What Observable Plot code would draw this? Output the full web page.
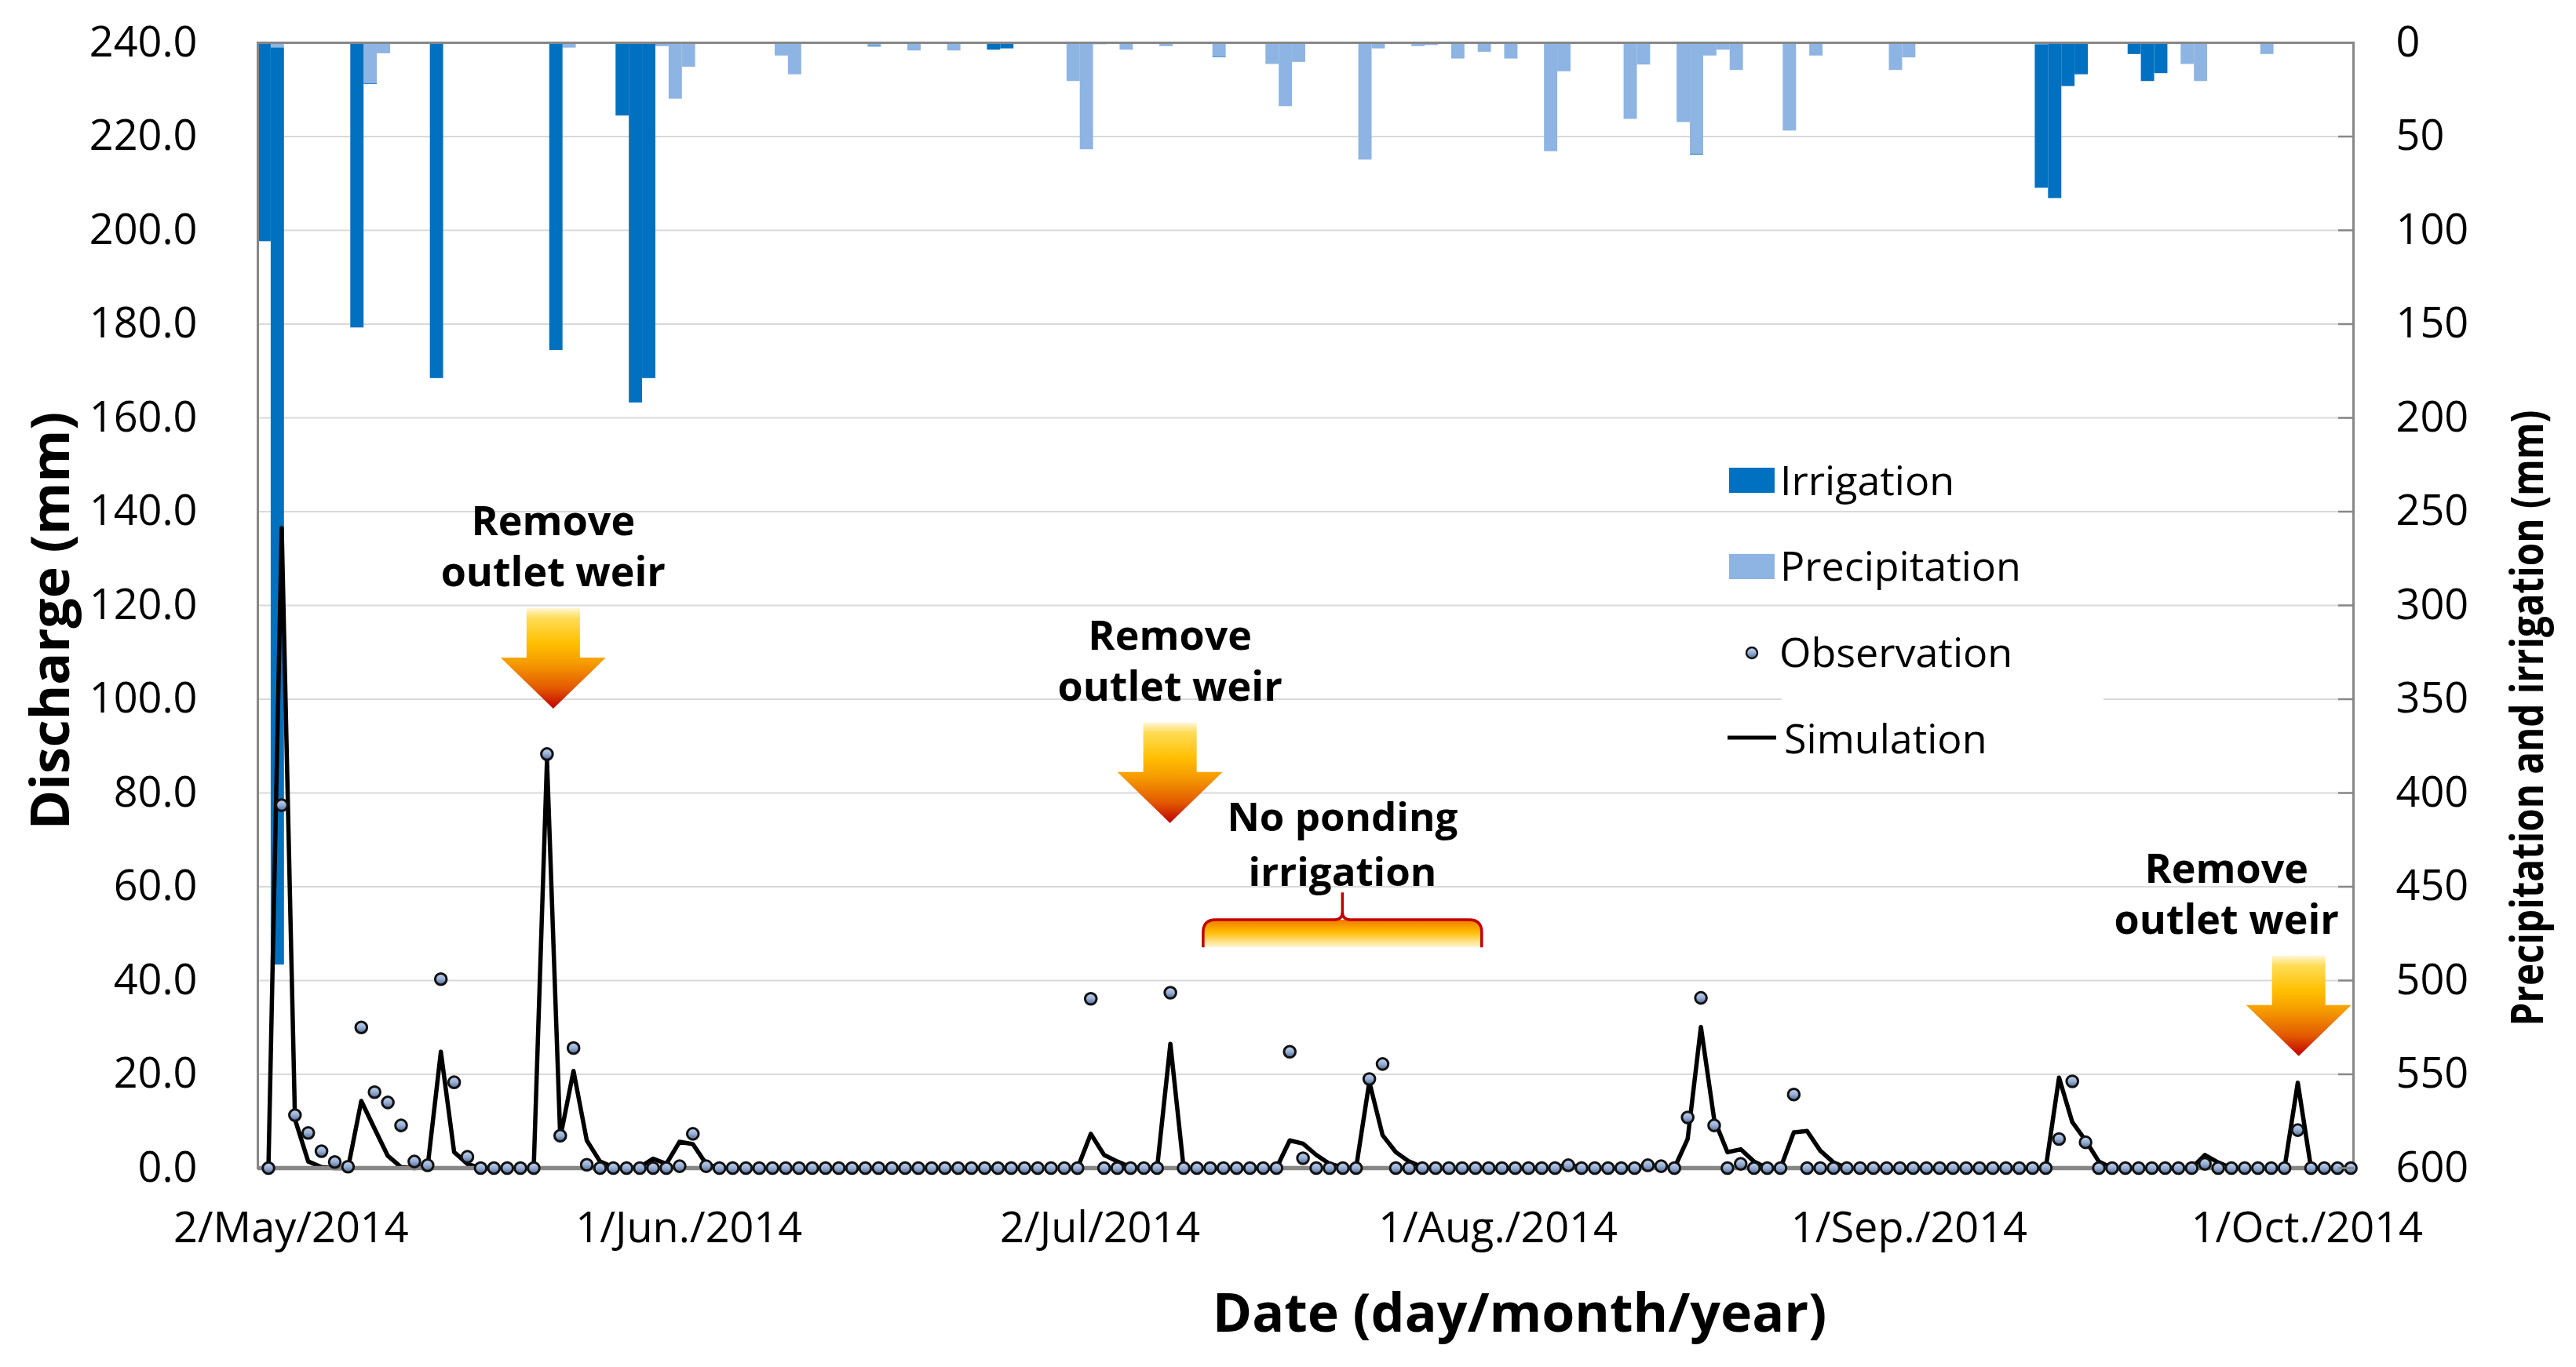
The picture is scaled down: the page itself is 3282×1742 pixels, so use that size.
<!DOCTYPE html>
<html>
<head>
<meta charset="utf-8">
<script src="https://cdn.jsdelivr.net/npm/d3@7"></script>
<script src="https://cdn.jsdelivr.net/npm/@observablehq/plot@0.6"></script>
<style>
html,body{margin:0;padding:0;background:#fff;}
#chart svg{display:block;}
</style>
</head>
<body>
<div id="chart"></div>
<script>
// ---------------- data (daily, first day = startDate) ----------------
const startDate = "2014-04-30";

// Observed discharge (mm)
const observation = [
  0, 77.4, 11.3, 7.5, 3.6, 1.3, 0.3, 30.0, 16.2, 14.0,
  9.1, 1.4, 0.6, 40.3, 18.3, 2.4, 0, 0, 0, 0,
  0, 88.3, 6.9, 25.6, 0.7, 0, 0, 0, 0, 0,
  0, 0.4, 7.3, 0.4, 0, 0, 0, 0, 0, 0,
  0, 0, 0, 0, 0, 0, 0, 0, 0, 0,
  0, 0, 0, 0, 0, 0, 0, 0, 0, 0,
  0, 0, 36.1, 0, 0, 0, 0, 0, 37.4, 0,
  0, 0, 0, 0, 0, 0, 0, 24.8, 2.1, 0,
  0, 0, 0, 19.0, 22.2, 0, 0, 0, 0, 0,
  0, 0, 0, 0, 0, 0, 0, 0, 0.6, 0,
  0, 0, 0, 0, 0.6, 0.4, 0, 10.8, 36.3, 9.1,
  0, 0.9, 0, 0, 0, 15.7, 0, 0, 0, 0,
  0, 0, 0, 0, 0, 0, 0, 0, 0, 0,
  0, 0, 0, 0, 0, 6.2, 18.5, 5.5, 0, 0,
  0, 0, 0, 0, 0, 0, 0.9, 0, 0, 0,
  0, 0, 0, 8.1, 0, 0, 0, 0
];

// Simulated discharge (mm)
const simulation = [
  0, 136.5, 10.4, 1.4, 0.2, 0, 0, 14.3, 8.4, 2.6,
  0.2, 0, 0.3, 24.8, 3.4, 0.9, 0, 0, 0, 0,
  0, 87.0, 6.5, 20.7, 5.9, 1.4, 0.2, 0, 0.2, 2.0,
  0.9, 5.6, 5.1, 0.9, 0, 0, 0, 0, 0, 0,
  0, 0, 0, 0, 0, 0, 0, 0, 0, 0,
  0, 0, 0, 0, 0, 0, 0, 0, 0, 0,
  0, 0, 7.3, 2.8, 1.4, 0.2, 0, 0, 26.5, 0,
  0, 0, 0, 0, 0, 0, 0, 5.9, 5.2, 2.8,
  0.9, 0.2, 0, 18.4, 7.0, 3.4, 1.4, 0.2, 0, 0,
  0, 0, 0, 0, 0, 0, 0, 0, 0.9, 0,
  0, 0, 0, 0.3, 0.4, 0.3, 0, 6.2, 30.1, 10.4,
  3.4, 4.0, 1.4, 0, 0, 7.6, 7.9, 3.7, 1.2, 0,
  0, 0, 0, 0, 0, 0, 0, 0, 0, 0,
  0, 0, 0, 0, 0, 19.3, 9.8, 5.9, 1.4, 0,
  0, 0, 0, 0, 0, 0, 2.8, 1.2, 0, 0,
  0, 0, 0, 18.2, 0, 0, 0, 0
];

// Precipitation (mm, right axis)
const precipitation = [
  0, 2.7, 0, 0, 0, 0, 0, 0, 21.7, 5.8,
  0, 0, 0, 0, 0, 0, 0, 0, 0, 0,
  0, 0, 0, 2.8, 0, 0, 0, 0, 0, 0,
  2, 30, 13, 0, 0, 0, 0, 0, 0, 7,
  17, 0, 0, 0, 0, 0, 1.8, 0, 0, 4.3,
  0, 0, 4.3, 0, 0, 0, 0, 0, 0, 0,
  0, 20.6, 57, 1, 0, 3.9, 0, 0, 2, 0,
  0, 0, 7.4, 0, 0, 0, 11.5, 34, 10.4, 0,
  0, 0, 0, 62.5, 3.2, 0, 0, 2, 1.4, 0,
  8.6, 0, 5, 0, 8.6, 0, 0, 58, 15.4, 0,
  0, 0, 0, 40.8, 11.8, 0, 0, 42.5, 59.4, 7,
  3.9, 14.7, 0, 0, 0, 47, 0, 7, 0, 0,
  0, 0, 0, 14.7, 8, 0, 0, 0, 0, 0,
  0, 0, 0, 0, 1, 0, 0, 0, 0, 0,
  0, 0, 0, 0, 0, 11.5, 20.6, 0, 0, 0,
  0, 6.2, 0, 0, 0, 0, 0, 0
];

// Irrigation (mm, right axis)
const irrigation = [
  106, 489, 0, 0, 0, 0, 0, 152, 0.4, 0,
  0, 0, 0, 179, 0, 0, 0, 0, 0, 0,
  0, 0, 164, 0, 0, 0, 0, 39, 192, 179,
  0, 0, 0, 0, 0, 0, 0, 0.4, 0.4, 0,
  0, 0, 0, 0, 0.4, 0.4, 0.4, 0.4, 0, 0,
  0, 0.5, 0, 0, 0, 3.9, 3.2, 0, 0, 0,
  0, 0, 0, 0, 0, 0, 0, 0, 0, 0,
  0, 0, 0.4, 0, 0, 0, 0, 0, 0, 0,
  0, 0, 0, 0, 0, 0, 0, 0, 0, 0,
  0, 0, 0, 0, 0, 0, 0, 0, 0, 0,
  0, 0, 0, 0, 0, 0, 0, 0, 0.4, 0,
  0, 0, 0, 0, 0, 0, 0, 0, 0, 0,
  0, 0, 0, 0, 0, 0, 0, 0, 0, 0,
  0, 0, 0, 0, 76.5, 83, 23.3, 17, 0, 0,
  0, 6.2, 20.6, 16.4, 0, 0, 0, 0, 0, 0,
  0, 0, 0, 0, 0, 0, 0, 0
];

const xTickDates  = ["2014-05-02", "2014-06-01", "2014-07-02", "2014-08-01", "2014-09-01", "2014-10-01"];
const xTickLabels = ["2/May/2014", "1/Jun./2014", "2/Jul/2014", "1/Aug./2014", "1/Sep./2014", "1/Oct./2014"];
const dischargeTicks = [0, 20, 40, 60, 80, 100, 120, 140, 160, 180, 200, 220, 240];
const rainTicks = [0, 50, 100, 150, 200, 250, 300, 350, 400, 450, 500, 550, 600];
const legendLabels = ["Irrigation", "Precipitation", "Observation", "Simulation"];
const noteWeir = ["Remove", "outlet weir"];
const notePonding = ["No ponding", "irrigation"];
const titleX = "Date (day/month/year)";
const titleY = "Discharge (mm)";
const titleY2 = "Precipitation and irrigation (mm)";

// ---------------- chart ----------------
const DAY = 864e5;
const t0 = Date.parse(startDate + "T00:00:00Z");
const nDays = observation.length;
const Q_MAX = 240, RAIN_MAX = 600;
const K = Q_MAX / RAIN_MAX;               // right (reversed) axis mapped onto discharge scale
const rainY = v => Q_MAX - v * K;
const SERIES_SHIFT = 0.8;                  // discharge series sit slightly right of the bar centres

const rows = d3.range(nDays).map(i => ({
  start: new Date(t0 + i * DAY),
  end: new Date(t0 + (i + 1) * DAY),
  mid: new Date(t0 + (i + SERIES_SHIFT) * DAY),
  obs: observation[i], sim: simulation[i], pr: precipitation[i], ir: irrigation[i]
}));
const tickMid = xTickDates.map(s => new Date(Date.parse(s + "T12:00:00Z")));
const labelOf = new Map(tickMid.map((d, i) => [+d, xTickLabels[i]]));

const FONT = "'Open Sans', 'Noto Sans', sans-serif";
const GRAY = "#878787";

const plot = Plot.plot({
  width: 3282, height: 1742,
  marginLeft: 328, marginRight: 284, marginTop: 54, marginBottom: 254,
  style: {fontFamily: FONT, background: "#fff", color: "#000", overflow: "visible"},
  x: {type: "utc", domain: [new Date(t0), new Date(t0 + nDays * DAY)]},
  y: {domain: [0, Q_MAX]},
  marks: [
    Plot.ruleY(dischargeTicks.filter(v => v > 0 && v < Q_MAX), {stroke: "#d9d9d9", strokeWidth: 2}),
    Plot.rect(rows.filter(r => r.pr > 0), {x1: "start", x2: "end", y1: () => Q_MAX, y2: r => rainY(r.pr), fill: "#8db4e2"}),
    Plot.rect(rows.filter(r => r.ir > 0), {x1: "start", x2: "end", y1: r => rainY(r.pr), y2: r => rainY(r.pr + r.ir), fill: "#0070c0"}),
    Plot.frame({stroke: GRAY, strokeWidth: 3}),
    Plot.line(rows, {x: "mid", y: "sim", stroke: "#000", strokeWidth: 5.5, strokeLinejoin: "round"}),
    Plot.ruleY([0], {stroke: GRAY, strokeWidth: 5.5}),
    Plot.dot(rows, {x: "mid", y: "obs", r: 7.3, fill: "url(#dotFill)", stroke: "#111", strokeWidth: 3}),
    Plot.axisY(dischargeTicks, {anchor: "left", tickSize: 0, tickPadding: 77, tickFormat: d => d.toFixed(1), fontSize: 54, label: null}),
    Plot.axisY(rainTicks.map(rainY), {anchor: "right", tickSize: 20, dx: -20, tickPadding: 54,
      tickFormat: d => String(Math.round((Q_MAX - d) / K)), fontSize: 54, stroke: GRAY, strokeWidth: 2.5, label: null}),
    Plot.axisX(tickMid, {anchor: "bottom", tickSize: 0, tickPadding: 56, tickFormat: d => labelOf.get(+d), fontSize: 54, label: null})
  ]
});
document.getElementById("chart").appendChild(plot);

// ---------------- annotations, titles, legend ----------------
const svg = d3.select(plot);
const sx = plot.scale("x"), sy = plot.scale("y");
const X = dd => sx.apply(new Date(t0 + dd * DAY));   // dd = days from start
const Y = v => sy.apply(v);

const defs = svg.insert("defs", ":first-child");
function grad(id, stops) {
  const g = defs.append("linearGradient").attr("id", id).attr("x1", 0).attr("y1", 0).attr("x2", 0).attr("y2", 1);
  stops.forEach(([o, c]) => g.append("stop").attr("offset", o).attr("stop-color", c));
}
grad("dotFill", [[0, "#c6d5ec"], [0.5, "#98afd5"], [1, "#4f6a95"]]);
grad("arrowFill", [[0, "#fff7d6"], [0.1, "#ffdc55"], [0.35, "#ffbf00"], [0.55, "#f59a00"], [0.8, "#e25800"], [1, "#c00000"]]);
grad("braceFill", [[0, "#f07800"], [0.45, "#ffbd00"], [1, "#fff6d8"]]);

const g = svg.append("g").attr("text-anchor", "start");

// gridline hidden behind the legend box in the original
g.append("rect").attr("x", 2270).attr("y", Y(100) - 4).attr("width", 410).attr("height", 8).attr("fill", "#fff");

// weir removal arrows + notes
const weirSpots = [{at: 22.3, tip: 97.9, shift: 0}, {at: 68.8, tip: 73.5, shift: 0}, {at: 153.9, tip: 23.8, shift: -92}];
weirSpots.forEach(s => {
  const tx = X(s.at), ty = Y(s.tip);
  const sw = 34, hw = 67, hh = 65, H = 128;
  g.append("path")
    .attr("d", `M${tx - sw},${ty - H}L${tx + sw},${ty - H}L${tx + sw},${ty - hh}L${tx + hw},${ty - hh}L${tx},${ty}L${tx - hw},${ty - hh}L${tx - sw},${ty - hh}Z`)
    .attr("fill", "url(#arrowFill)");
  const t = g.append("text").attr("text-anchor", "middle").attr("font-family", FONT)
    .attr("font-weight", 700).attr("font-size", 52).attr("fill", "#000");
  t.append("tspan").attr("x", tx + s.shift).attr("y", ty - 221).text(noteWeir[0]);
  t.append("tspan").attr("x", tx + s.shift).attr("y", ty - 156).text(noteWeir[1]);
});

// no-ponding bracket
{
  const L = X(71.3), R = X(92.3), M = X(81.8);
  const T = Y(52.9), B = Y(47.0), N = Y(58.7), r = 16;
  g.append("path")
    .attr("d", `M${L},${B}L${L},${T + r}Q${L},${T} ${L + r},${T}L${R - r},${T}Q${R},${T} ${R},${T + r}L${R},${B}Z`)
    .attr("fill", "url(#braceFill)");
  g.append("path")
    .attr("d", `M${L},${B}L${L},${T + r}Q${L},${T} ${L + r},${T}L${M - 10},${T}Q${M},${T} ${M},${T - 10}L${M},${N}M${M},${T - 10}Q${M},${T} ${M + 10},${T}L${R - r},${T}Q${R},${T} ${R},${T + r}L${R},${B}`)
    .attr("fill", "none").attr("stroke", "#c00000").attr("stroke-width", 3.5);
  const t = g.append("text").attr("text-anchor", "middle").attr("font-family", FONT)
    .attr("font-weight", 700).attr("font-size", 51).attr("fill", "#000");
  t.append("tspan").attr("x", M).attr("y", Y(71.1) - 4).text(notePonding[0]);
  t.append("tspan").attr("x", M).attr("y", Y(60.4) + 2).text(notePonding[1]);
}

// axis titles
g.append("text").attr("x", 1936).attr("y", 1697).attr("text-anchor", "middle")
  .attr("font-family", FONT).attr("font-weight", 700).attr("font-size", 68).text(titleX);
g.append("text").attr("transform", "translate(88,791) rotate(-90)").attr("text-anchor", "middle")
  .attr("font-family", FONT).attr("font-weight", 700).attr("font-size", 68).text(titleY);
g.append("text").attr("transform", "translate(3240,915) rotate(-90)").attr("text-anchor", "middle")
  .attr("font-family", FONT).attr("font-weight", 700).attr("font-size", 58)
  .attr("textLength", 785).attr("lengthAdjust", "spacingAndGlyphs").text(titleY2);

// legend
const lg = g.append("g").attr("font-family", FONT).attr("font-size", 52).attr("fill", "#000").attr("text-anchor", "start");
const rowBase = [631, 740, 850, 960];
lg.append("rect").attr("x", 2203).attr("y", 596).attr("width", 58).attr("height", 32).attr("fill", "#0070c0");
lg.append("rect").attr("x", 2203).attr("y", 706).attr("width", 58).attr("height", 32).attr("fill", "#8db4e2");
lg.append("circle").attr("cx", 2232).attr("cy", 832).attr("r", 7).attr("fill", "url(#dotFill)").attr("stroke", "#111").attr("stroke-width", 2.4);
lg.append("line").attr("x1", 2201).attr("x2", 2263).attr("y1", 940).attr("y2", 940).attr("stroke", "#000").attr("stroke-width", 5);
const lx = [2268, 2268, 2267, 2273];
legendLabels.forEach((s, i) => lg.append("text").attr("x", lx[i]).attr("y", rowBase[i]).text(s));
</script>
</body>
</html>
